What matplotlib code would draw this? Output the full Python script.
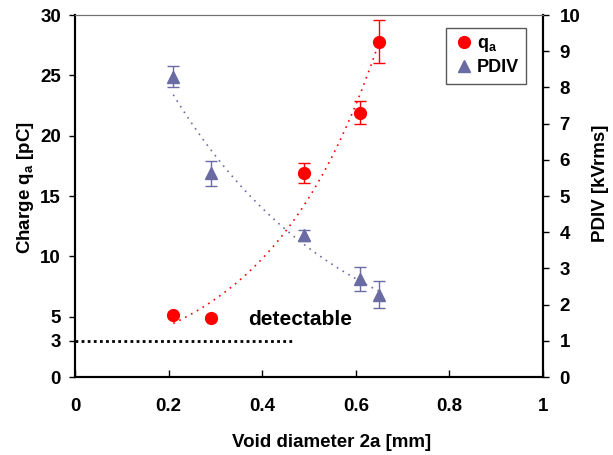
import matplotlib.pyplot as plt
import numpy as np

plt.rcParams['font.family'] = ['Liberation Sans', 'DejaVu Sans']
plt.rcParams['font.weight'] = 'bold'

# Data
diameter = [0.21, 0.29, 0.49, 0.61, 0.65]
charge = [5.1, 4.9, 16.9, 21.9, 27.8]
charge_err = [0, 0, 0.8, 0.95, 1.8]
pdiv = [8.3, 5.63, 3.92, 2.7, 2.27]
pdiv_err = [0.3, 0.35, 0.15, 0.33, 0.37]
detect_level = 3

red = '#FF0000'
blue = '#6B6BA3'

fig = plt.figure(figsize=(6.13, 4.55), dpi=100)
ax = fig.add_axes([0.1223, 0.1714, 0.7635, 0.7956])
ax2 = ax.twinx()

# exponential fits
xs = np.linspace(min(diameter), max(diameter), 100)
b1, a1 = np.polyfit(diameter, np.log(charge), 1)
b2, a2 = np.polyfit(diameter, np.log(pdiv), 1)
ax.plot(xs, np.exp(a1 + b1 * xs), color=red, ls=(0, (1, 3)), lw=1.2)
ax2.plot(xs, np.exp(a2 + b2 * xs), color=blue, ls=(0, (1, 3)), lw=1.2)

ax.errorbar(diameter, charge, yerr=charge_err, fmt='o', color=red, ms=8.5,
            elinewidth=1, capsize=4, label='q$_\\mathregular{a}$', zorder=5)
ax2.errorbar(diameter, pdiv, yerr=pdiv_err, fmt='^', color=blue, ms=9,
             elinewidth=1, capsize=4, label='PDIV', zorder=5)

ax.plot([0, 0.465], [detect_level, detect_level], color='black', ls=(0, (1, 1.2)), lw=2)
ax.text(0.37, 4.8, 'detectable', fontsize=15, fontweight='bold', va='center')

ax.set_xlim(0, 1)
ax.set_ylim(0, 30)
ax2.set_ylim(0, 10)
ax.set_xticks([0, 0.2, 0.4, 0.6, 0.8, 1])
ax.set_xticklabels(['0', '0.2', '0.4', '0.6', '0.8', '1'])
ax.set_yticks([0, 3, 5, 10, 15, 20, 25, 30])
ax2.set_yticks(range(11))

fs = 13.5
ax.tick_params(axis='x', direction='in', length=5, width=1, labelsize=fs, pad=15)
ax.tick_params(axis='y', direction='out', length=4, width=1, labelsize=fs, pad=6)
ax2.tick_params(axis='y', direction='out', length=4, width=1, labelsize=fs, pad=8)

ax.set_xlabel('Void diameter 2a [mm]', fontsize=fs, fontweight='bold', labelpad=14, x=0.549)
ax.set_ylabel('Charge q$_\\mathregular{a}$ [pC]', fontsize=fs, fontweight='bold',
              labelpad=3, y=0.524)
ax2.set_ylabel('PDIV [kVrms]', fontsize=fs, fontweight='bold', labelpad=8, y=0.536)

for a in (ax, ax2):
    a.spines['top'].set_color('#707070')
    a.spines['left'].set_linewidth(1.5)
    a.spines['bottom'].set_linewidth(1.5)
    a.spines['right'].set_linewidth(1.5)

h1, l1 = ax.get_legend_handles_labels()
h2, l2 = ax2.get_legend_handles_labels()
h1 = [h[0] for h in h1]
h2 = [h[0] for h in h2]
leg = ax2.legend(h1 + h2, l1 + l2, loc='upper right', bbox_to_anchor=(0.983, 0.99),
                 fancybox=False, edgecolor='#303030', handletextpad=0.1,
                 handlelength=1.2, borderpad=0.4, labelspacing=0.3,
                 prop={'weight': 'bold', 'size': 13})
leg.get_frame().set_linewidth(1)

fig.savefig('out.png', dpi=100)
